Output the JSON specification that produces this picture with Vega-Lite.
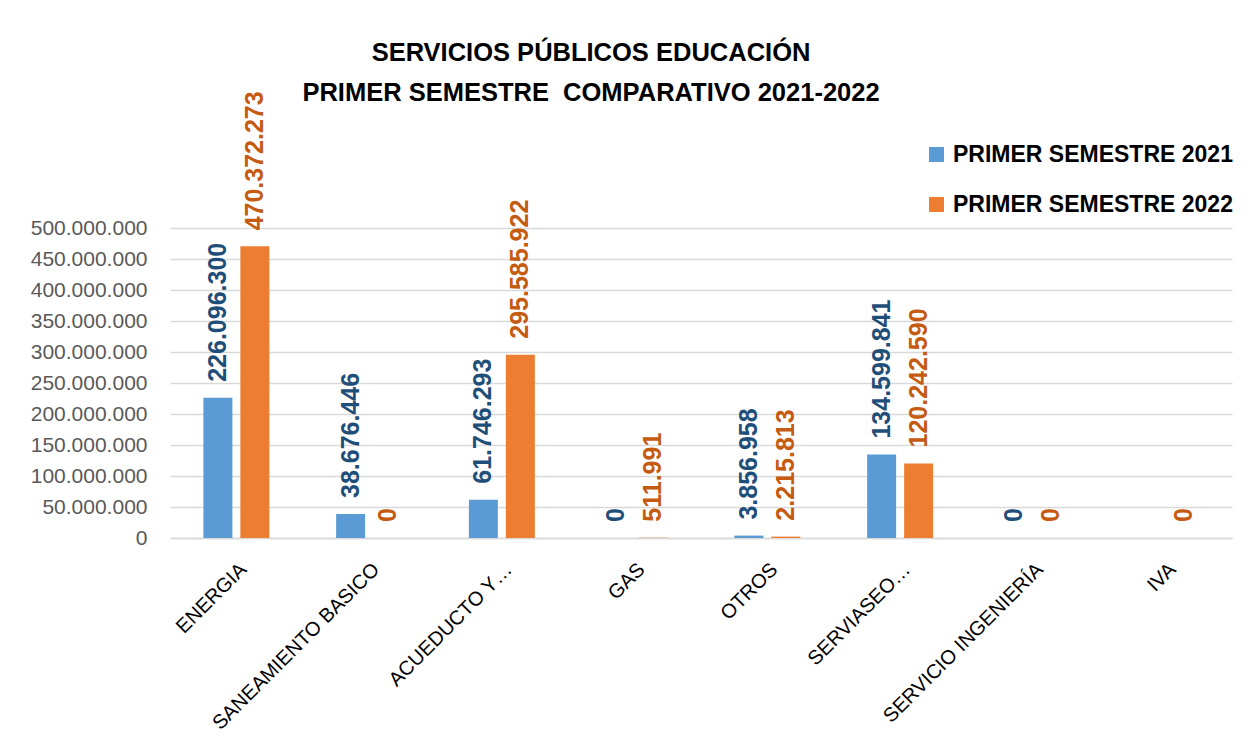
{
  "$schema": "https://vega.github.io/schema/vega-lite/v6.json",
  "width": 1062,
  "height": 310,
  "autosize": {"type": "none"},
  "padding": {"left": 170, "top": 228, "right": 19, "bottom": 202},
  "background": "white",
  "config": {
    "view": {"stroke": null},
    "font": "Liberation Sans",
    "locale": {"number": {"decimal": ",", "thousands": ".", "grouping": [3], "currency": ["$", ""]}}
  },
  "title": {
    "text": ["SERVICIOS PÚBLICOS EDUCACIÓN", "PRIMER SEMESTRE \u00a0COMPARATIVO 2021-2022"],
    "fontSize": 25.5,
    "fontWeight": "bold",
    "color": "#000000",
    "lineHeight": 40,
    "anchor": "middle",
    "dx": -110,
    "offset": -15
  },
  "data": {
    "values": [
      {"categoria": "ENERGIA", "serie": "PRIMER SEMESTRE 2021", "valor": 226096300},
      {"categoria": "ENERGIA", "serie": "PRIMER SEMESTRE 2022", "valor": 470372273},
      {"categoria": "SANEAMIENTO BASICO", "serie": "PRIMER SEMESTRE 2021", "valor": 38676446},
      {"categoria": "SANEAMIENTO BASICO", "serie": "PRIMER SEMESTRE 2022", "valor": 0},
      {"categoria": "ACUEDUCTO Y…", "serie": "PRIMER SEMESTRE 2021", "valor": 61746293},
      {"categoria": "ACUEDUCTO Y…", "serie": "PRIMER SEMESTRE 2022", "valor": 295585922},
      {"categoria": "GAS", "serie": "PRIMER SEMESTRE 2021", "valor": 0},
      {"categoria": "GAS", "serie": "PRIMER SEMESTRE 2022", "valor": 511991},
      {"categoria": "OTROS", "serie": "PRIMER SEMESTRE 2021", "valor": 3856958},
      {"categoria": "OTROS", "serie": "PRIMER SEMESTRE 2022", "valor": 2215813},
      {"categoria": "SERVIASEO…", "serie": "PRIMER SEMESTRE 2021", "valor": 134599841},
      {"categoria": "SERVIASEO…", "serie": "PRIMER SEMESTRE 2022", "valor": 120242590},
      {"categoria": "SERVICIO INGENIERÍA", "serie": "PRIMER SEMESTRE 2021", "valor": 0},
      {"categoria": "SERVICIO INGENIERÍA", "serie": "PRIMER SEMESTRE 2022", "valor": 0},
      {"categoria": "IVA", "serie": "PRIMER SEMESTRE 2022", "valor": 0}
    ]
  },
  "encoding": {
    "x": {
      "field": "categoria",
      "type": "nominal",
      "sort": null,
      "scale": {"paddingInner": 0.503, "paddingOuter": 0.2515},
      "axis": {
        "title": null,
        "labelAngle": -45,
        "labelAlign": "right",
        "labelBaseline": "top",
        "labelFontSize": 20,
        "labelColor": "#000000",
        "labelPadding": 21,
        "labelLimit": 0,
        "ticks": false,
        "domainColor": "#D9D9D9",
        "domainWidth": 1.5
      }
    },
    "xOffset": {
      "field": "serie",
      "type": "nominal",
      "scale": {"paddingInner": 0.216, "paddingOuter": 0}
    },
    "y": {
      "field": "valor",
      "type": "quantitative",
      "scale": {"domain": [0, 500000000]},
      "axis": {
        "title": null,
        "values": [0, 50000000, 100000000, 150000000, 200000000, 250000000, 300000000, 350000000, 400000000, 450000000, 500000000],
        "format": ",d",
        "domain": false,
        "ticks": false,
        "grid": true,
        "gridColor": "#D9D9D9",
        "gridWidth": 1.5,
        "labelFontSize": 21,
        "labelColor": "#595959",
        "labelPadding": 23
      }
    }
  },
  "layer": [
    {
      "mark": {"type": "bar"},
      "encoding": {
        "color": {
          "field": "serie",
          "type": "nominal",
          "scale": {"domain": ["PRIMER SEMESTRE 2021", "PRIMER SEMESTRE 2022"], "range": ["#5B9BD5", "#ED7D31"]},
          "legend": {
            "title": null,
            "orient": "none",
            "legendX": 755,
            "legendY": -85,
            "labelFontSize": 23,
            "labelFontWeight": "bold",
            "labelColor": "#000000",
            "symbolType": "square",
            "symbolSize": 225,
            "symbolStrokeWidth": 0,
            "rowPadding": 26,
            "labelOffset": 5,
            "padding": 0,
            "labelLimit": 0
          }
        }
      }
    },
    {
      "mark": {"type": "text", "angle": -90, "align": "left", "baseline": "middle", "dx": 16, "fontSize": 25, "fontWeight": "bold"},
      "encoding": {
        "text": {"field": "valor", "type": "quantitative", "format": ",d"},
        "color": {
          "condition": {"test": "datum.serie === 'PRIMER SEMESTRE 2021'", "value": "#1F4E79"},
          "value": "#C55A11"
        }
      }
    }
  ]
}
